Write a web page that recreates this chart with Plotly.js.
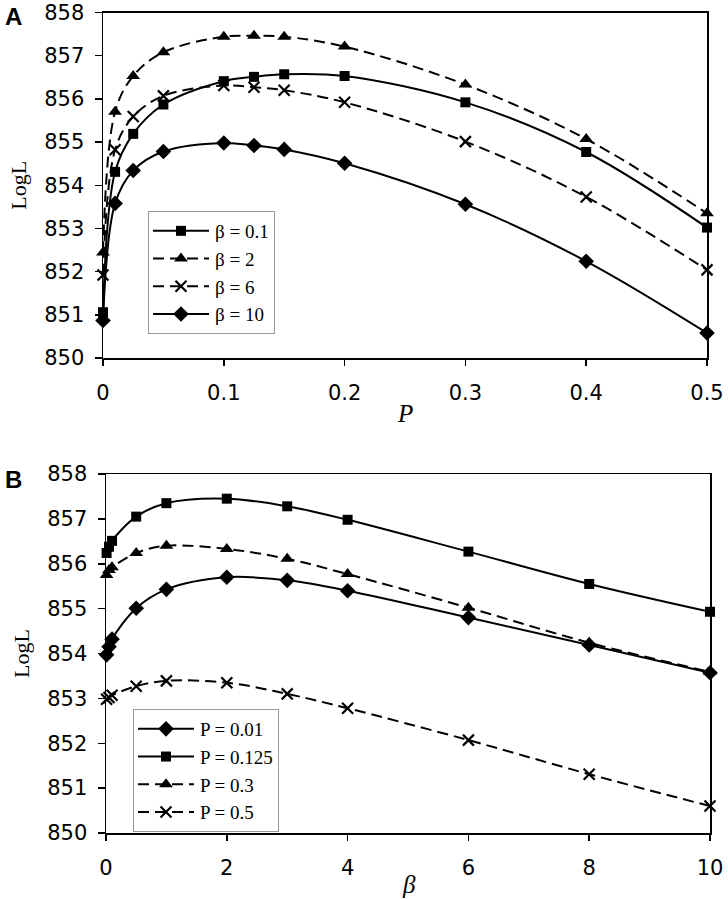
<!DOCTYPE html>
<html>
<head>
<meta charset="utf-8">
<script src="https://cdn.plot.ly/plotly-3.0.1.min.js"></script>
<style>
html,body{margin:0;padding:0;background:#fff;}
#chart{width:728px;height:899px;}
</style>
</head>
<body>
<div id="chart"></div>
<script>
// Panel A: LogL versus P for several beta values
var P_values = [0, 0.01, 0.025, 0.05, 0.1, 0.125, 0.15, 0.2, 0.3, 0.4, 0.5];
var A_beta01 = [851.06, 854.31, 855.19, 855.87, 856.41, 856.51, 856.57, 856.53, 855.92, 854.77, 853.02];
var A_beta2  = [852.44, 855.70, 856.53, 857.08, 857.44, 857.46, 857.44, 857.21, 856.33, 855.07, 853.35];
var A_beta6  = [851.92, 854.82, 855.59, 856.07, 856.31, 856.27, 856.20, 855.92, 855.01, 853.73, 852.04];
var A_beta10 = [850.87, 853.58, 854.34, 854.78, 854.98, 854.92, 854.83, 854.51, 853.56, 852.24, 850.58];
var A_names  = ["β = 0.1", "β = 2", "β = 6", "β = 10"];

// Panel B: LogL versus beta for several P values
var beta_values = [0.01, 0.05, 0.1, 0.5, 1, 2, 3, 4, 6, 8, 10];
var B_P001  = [853.97, 854.15, 854.32, 855.01, 855.43, 855.70, 855.63, 855.40, 854.80, 854.19, 853.57];
var B_P0125 = [856.24, 856.38, 856.51, 857.05, 857.35, 857.45, 857.28, 856.98, 856.27, 855.55, 854.93];
var B_P03   = [855.75, 855.86, 855.92, 856.24, 856.40, 856.33, 856.11, 855.77, 855.02, 854.24, 853.59];
var B_P05   = [852.98, 853.02, 853.07, 853.27, 853.39, 853.35, 853.10, 852.78, 852.07, 851.31, 850.60];
var B_names = ["P = 0.01", "P = 0.125", "P = 0.3", "P = 0.5"];

var yTicks = [850, 851, 852, 853, 854, 855, 856, 857, 858];
var xTicksA = [0, 0.1, 0.2, 0.3, 0.4, 0.5];
var xTicksB = [0, 2, 4, 6, 8, 10];

var DASH = "11px,6px";
function tr(x, y, name, sym, dash, xa, ya, leg, size) {
  var isX = sym === "x-thin";
  return {
    x: x, y: y, name: name, type: "scatter", mode: "lines+markers",
    xaxis: xa, yaxis: ya, legend: leg, cliponaxis: false,
    line: {color: "#000", width: 2, shape: "spline", smoothing: 1, dash: dash},
    marker: {symbol: sym, size: size, color: "#000",
             line: {color: "#000", width: isX ? 2.2 : 0}}
  };
}

var data = [
  tr(P_values, A_beta01, A_names[0], "square", "solid", "x", "y", "legend", 10),
  tr(P_values, A_beta2,  A_names[1], "triangle-up", DASH, "x", "y", "legend", 12),
  tr(P_values, A_beta6,  A_names[2], "x-thin", DASH, "x", "y", "legend", 11),
  tr(P_values, A_beta10, A_names[3], "diamond", "solid", "x", "y", "legend", 12),
  tr(beta_values, B_P001,  B_names[0], "diamond", "solid", "x2", "y2", "legend2", 12),
  tr(beta_values, B_P0125, B_names[1], "square", "solid", "x2", "y2", "legend2", 10),
  tr(beta_values, B_P03,   B_names[2], "triangle-up", DASH, "x2", "y2", "legend2", 12),
  tr(beta_values, B_P05,   B_names[3], "x-thin", DASH, "x2", "y2", "legend2", 11)
];

var tickFont = {family: "DejaVu Sans", size: 21, color: "#000"};
var serif = "Liberation Serif";
function xax(dom, rng, ticks, anchor) {
  return {
    domain: dom, range: rng, tickvals: ticks, anchor: anchor,
    showgrid: false, zeroline: false, showline: true, mirror: true,
    linecolor: "#000", linewidth: 1.5, ticks: "outside", ticklen: 6,
    tickcolor: "#000", tickwidth: 1.5, tickfont: tickFont, ticklabelstandoff: 9,
    ticklabeloverflow: "allow"
  };
}
function yax(dom, anchor) {
  return {
    domain: dom, range: [850, 858], tickvals: yTicks, anchor: anchor,
    showgrid: false, zeroline: false, showline: true, mirror: true,
    linecolor: "#000", linewidth: 1.5, ticks: "outside", ticklen: 7,
    tickcolor: "#000", tickwidth: 1.5, tickfont: tickFont, ticklabelstandoff: 6,
    ticklabeloverflow: "allow",
    title: {text: "LogL", font: {family: serif, size: 22, color: "#000"}, standoff: 11}
  };
}

var W = 728, H = 899;
var legFont = {family: serif, size: 19, color: "#000"};
var layout = {
  width: W, height: H,
  margin: {l: 0, r: 0, t: 0, b: 0},
  paper_bgcolor: "#fff", plot_bgcolor: "#fff",
  showlegend: true,
  xaxis: xax([103 / W, 707 / W], [0, 0.5], xTicksA, "y"),
  yaxis: yax([1 - 358 / H, 1 - 12.5 / H], "x"),
  xaxis2: xax([106 / W, 710 / W], [0, 10], xTicksB, "y2"),
  yaxis2: yax([1 - 833 / H, 1 - 474 / H], "x2"),
  legend: {
    x: 148 / W, y: 1 - 211 / H, xanchor: "left", yanchor: "top",
    bgcolor: "#fff", bordercolor: "#999", borderwidth: 1,
    font: legFont, itemwidth: 56, tracegroupgap: 0
  },
  legend2: {
    x: 133 / W, y: 1 - 709 / H, xanchor: "left", yanchor: "top",
    bgcolor: "#fff", bordercolor: "#999", borderwidth: 1,
    font: legFont, itemwidth: 56, tracegroupgap: 0
  },
  annotations: [
    {text: "<b>A</b>", xref: "paper", yref: "paper", x: 13 / W, y: 1 - 16 / H,
     xanchor: "center", yanchor: "middle", showarrow: false,
     font: {family: "Liberation Sans", size: 24, color: "#000"}},
    {text: "<b>B</b>", xref: "paper", yref: "paper", x: 13 / W, y: 1 - 479 / H,
     xanchor: "center", yanchor: "middle", showarrow: false,
     font: {family: "Liberation Sans", size: 24, color: "#000"}},
    {text: "<i>P</i>", xref: "paper", yref: "paper", x: 405 / W, y: 1 - 413 / H,
     xanchor: "center", yanchor: "middle", showarrow: false,
     font: {family: serif, size: 25, color: "#000"}},
    {text: "<i>β</i>", xref: "paper", yref: "paper", x: 409 / W, y: 1 - 884 / H,
     xanchor: "center", yanchor: "middle", showarrow: false,
     font: {family: serif, size: 25, color: "#000"}}
  ]
};

// lengthen the legend key lines to match the original key style
function fixLegend(gd) {
  try {
    gd.querySelectorAll("g.traces").forEach(function (t) {
      t.querySelectorAll(".legendlines path").forEach(function (p) {
        p.setAttribute("d", "M4,0h56");
      });
      t.querySelectorAll(".legendpoints path").forEach(function (p) {
        p.setAttribute("transform", "translate(32,0)");
      });
    });
  } catch (e) {}
}
Plotly.newPlot("chart", data, layout, {staticPlot: true, displayModeBar: false}).then(function (gd) {
  fixLegend(gd);
  if (gd.on) gd.on("plotly_afterplot", function () { fixLegend(gd); });
});
</script>
</body>
</html>
